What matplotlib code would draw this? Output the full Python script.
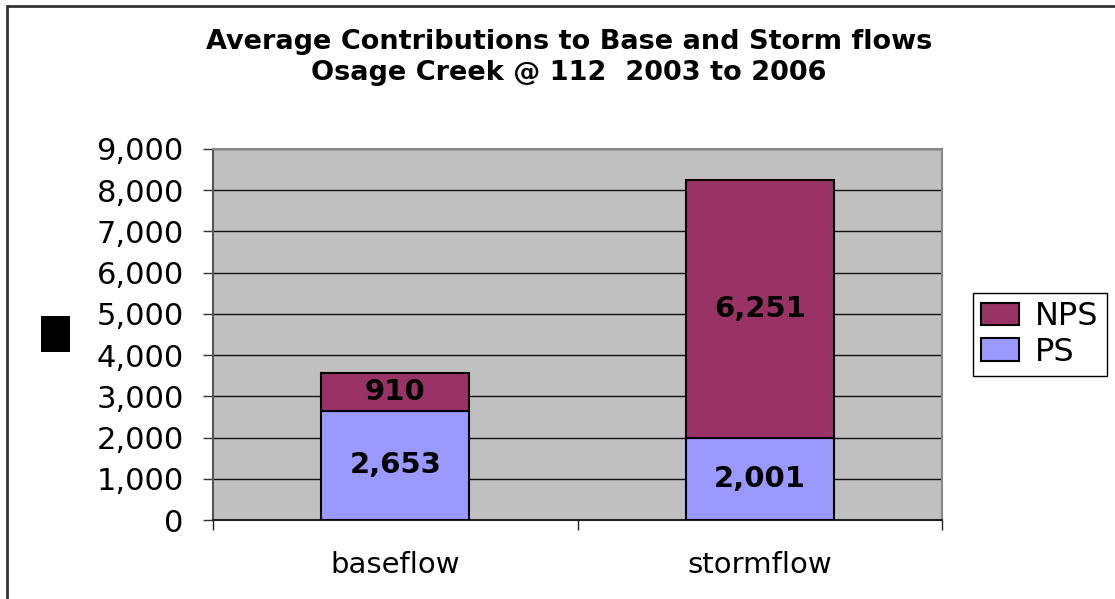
import matplotlib
matplotlib.use("Agg")
import matplotlib.pyplot as plt
from matplotlib.patches import Rectangle
from matplotlib.ticker import FuncFormatter

categories = ["baseflow", "stormflow"]
ps_values = [2653, 2001]
nps_values = [910, 6251]
y_ticks = list(range(0, 9001, 1000))
title_lines = ["Average Contributions to Base and Storm flows",
               "Osage Creek @ 112  2003 to 2006"]

W, H = 1115, 599
fig = plt.figure(figsize=(W / 100, H / 100), dpi=100)
plt.rcParams['font.family'] = ['DejaVu Sans']

# outer chart border (only left and top show in the reference)
fig.patches.append(Rectangle((7 / W, -0.1), 1.5, 1 - 6 / H + 0.1,
                             transform=fig.transFigure, fill=False,
                             edgecolor='#333333', linewidth=2))

ax = fig.add_axes([213 / W, 1 - 520 / H, 729 / W, 371 / H])
ax.set_facecolor('#C0C0C0')

x = range(len(categories))
bw = 0.405
ax.bar(x, ps_values, bw, color='#9999FF', edgecolor='black', linewidth=1.5,
       label='PS', zorder=3)
ax.bar(x, nps_values, bw, bottom=ps_values, color='#993366',
       edgecolor='black', linewidth=1.5, label='NPS', zorder=3)

for i in x:
    ax.text(i, ps_values[i] / 2, f"{ps_values[i]:,}", ha='center',
            va='center', fontsize=21, fontweight='bold', zorder=4)
    ax.text(i, ps_values[i] + nps_values[i] / 2, f"{nps_values[i]:,}",
            ha='center', va='center', fontsize=21, fontweight='bold', zorder=4)

ax.set_xlim(-0.5, 1.5)
ax.set_ylim(0, 9000)
ax.set_yticks(y_ticks)
ax.yaxis.set_major_formatter(FuncFormatter(lambda v, p: f"{int(v):,}"))
ax.tick_params(axis='y', labelsize=22, length=7, width=1, pad=14,
               direction='out', color='#333333')
ax.grid(axis='y', color='#111111', linewidth=1, zorder=1)
ax.set_axisbelow(True)

ax.set_xticks(list(x))
ax.set_xticklabels(categories)
ax.tick_params(axis='x', labelsize=21, length=0, pad=22)
ax.set_xticks([-0.5, 0.5, 1.5], minor=True)
ax.tick_params(axis='x', which='minor', length=7, width=1, direction='out',
               color='#222222')

for s in ['top', 'right', 'left']:
    ax.spines[s].set_color('#888888')
    ax.spines[s].set_linewidth(1.5)
ax.spines['left'].set_color('#555555')
ax.spines['bottom'].set_color('#222222')
ax.spines['bottom'].set_linewidth(1.5)

handles, labels = ax.get_legend_handles_labels()
leg = ax.legend(handles[::-1], labels[::-1], loc='upper left',
                bbox_to_anchor=(973 / W, 1 - 293 / H),
                bbox_transform=fig.transFigure, fontsize=23,
                fancybox=False, framealpha=1, edgecolor='black',
                handlelength=1.2, handleheight=0.7, handletextpad=0.5,
                borderpad=0.25, labelspacing=0.15, borderaxespad=0)
leg.get_frame().set_linewidth(1)

for i, line in enumerate(title_lines):
    fig.text(569 / W, 1 - (42 + 31 * i) / H, line, ha='center',
             va='center', fontsize=19.5, fontweight='bold')

# black block at the left where the y-axis title would be
fig.patches.append(Rectangle((41 / W, 1 - 352 / H), 29 / W, 36 / H,
                             transform=fig.transFigure, facecolor='black',
                             edgecolor='none'))

fig.savefig('out.png', dpi=100)
